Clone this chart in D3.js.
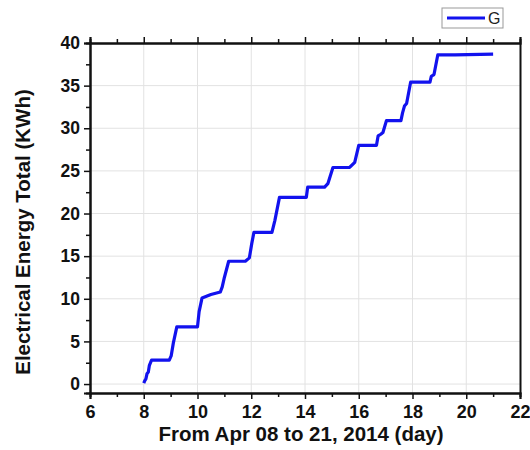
<!DOCTYPE html>
<html>
<head>
<meta charset="utf-8">
<script src="https://cdn.jsdelivr.net/npm/d3@7"></script>
<style>
  body { margin: 0; background: #fff; }
  text { font-family: Arial, "Liberation Sans", sans-serif; }
</style>
</head>
<body>
<div id="chart"></div>
<script>
// day of April 2014 and cumulative energy (KWh)
var days = [8.0, 8.04, 8.08, 8.12, 8.17, 8.21, 8.29, 8.95, 9.02, 9.1, 9.23, 10.0, 10.06, 10.17, 10.5, 10.85, 10.92, 11.0, 11.16, 11.78, 11.93, 12.02, 12.1, 12.77, 12.88, 13.05, 14.05, 14.1, 14.73, 14.85, 15.04, 15.66, 15.85, 16.0, 16.66, 16.72, 16.82, 16.9, 17.03, 17.57, 17.63, 17.7, 17.78, 17.93, 18.65, 18.7, 18.8, 18.94, 19.58, 21.0]
var energy = [0.1, 0.4, 0.6, 1.2, 1.4, 2.2, 2.8, 2.8, 3.3, 4.8, 6.7, 6.7, 8.5, 10.1, 10.5, 10.8, 11.4, 12.5, 14.4, 14.4, 14.8, 16.5, 17.8, 17.8, 19.2, 21.9, 21.9, 23.1, 23.1, 23.5, 25.4, 25.4, 26.0, 28.0, 28.0, 29.1, 29.3, 29.5, 30.9, 30.9, 31.8, 32.6, 32.9, 35.4, 35.4, 36.1, 36.3, 38.6, 38.6, 38.7]
var xTicks = [6, 8, 10, 12, 14, 16, 18, 20, 22]
var yTicks = [0, 5, 10, 15, 20, 25, 30, 35, 40]
var seriesName = "G"

var width = 530, height = 450
var margin = {top: 43, right: 10, bottom: 57, left: 90}

var svg = d3.select('#chart').append('svg')
  .attr('width', width)
  .attr('height', height)

var x = d3.scaleLinear().domain([6, 22]).range([margin.left, width - margin.right])
var y = d3.scaleLinear().domain([-1.05, 40]).range([height - margin.bottom, margin.top])

var points = days.map(function(d, i){ return [d, energy[i]] })

// grid
svg.append('g').selectAll('line')
  .data(xTicks.filter(d => d > 6 && d < 22))
  .enter().append('line')
  .attr('x1', d => x(d)).attr('x2', d => x(d))
  .attr('y1', y(40)).attr('y2', y(-1.05))
  .attr('stroke', '#e2e2e2').attr('stroke-width', 1)

svg.append('g').selectAll('line')
  .data(yTicks.filter(d => d < 40))
  .enter().append('line')
  .attr('x1', x(6)).attr('x2', x(22))
  .attr('y1', d => y(d)).attr('y2', d => y(d))
  .attr('stroke', '#e2e2e2').attr('stroke-width', 1)

// axes
var xMinor = d3.range(7, 22, 2)
var yMinor = d3.range(2.5, 40, 5)

var axisBottomG = svg.append('g')
  .attr('transform', 'translate(0,' + (height - margin.bottom) + ')')
  .call(d3.axisBottom(x).tickValues(xTicks).tickSize(6).tickPadding(6).tickFormat(d3.format('d')))
axisBottomG.append('g').call(d3.axisBottom(x).tickValues(xMinor).tickSize(4).tickFormat(''))

var axisTopG = svg.append('g')
  .attr('transform', 'translate(0,' + margin.top + ')')
  .call(d3.axisTop(x).tickValues(xTicks).tickSize(6).tickFormat(''))
axisTopG.append('g').call(d3.axisTop(x).tickValues(xMinor).tickSize(4).tickFormat(''))

var axisLeftG = svg.append('g')
  .attr('transform', 'translate(' + margin.left + ',0)')
  .call(d3.axisLeft(y).tickValues(yTicks).tickSize(6).tickPadding(4))
axisLeftG.append('g').call(d3.axisLeft(y).tickValues(yMinor).tickSize(4).tickFormat(''))

svg.append('g')
  .attr('transform', 'translate(' + (width - margin.right) + ',0)')
  .call(d3.axisRight(y).tickValues([]).tickSizeOuter(0))

svg.selectAll('.domain').attr('stroke', '#111').attr('stroke-width', 2)
svg.selectAll('.tick line').attr('stroke', '#111').attr('stroke-width', 1.5)
svg.selectAll('.tick text')
  .attr('font-size', 17.5).attr('font-weight', 'bold').attr('fill', '#111')
  .style('font-family', 'Arial, "Liberation Sans", sans-serif')
axisBottomG.selectAll('.tick text').attr('font-size', 18)

// series
svg.append('path')
  .datum(points)
  .attr('fill', 'none')
  .attr('stroke', '#1212ee')
  .attr('stroke-width', 3.2)
  .attr('stroke-linejoin', 'round')
  .attr('d', d3.line().x(d => x(d[0])).y(d => y(d[1])))

// titles
svg.append('text')
  .attr('x', 301)
  .attr('y', 441)
  .attr('text-anchor', 'middle')
  .attr('font-size', 20.5).attr('font-weight', 'bold').attr('fill', '#111')
  .text('From Apr 08 to 21, 2014 (day)')

svg.append('text')
  .attr('transform', 'translate(30,' + 232 + ') rotate(-90)')
  .attr('text-anchor', 'middle')
  .attr('font-size', 20.5).attr('font-weight', 'bold').attr('fill', '#111')
  .text('Electrical Energy Total (KWh)')

// legend
var legend = svg.append('g').attr('transform', 'translate(442,8)')
legend.append('rect')
  .attr('width', 61).attr('height', 20)
  .attr('fill', '#fff').attr('stroke', '#999').attr('stroke-width', 1)
legend.append('line')
  .attr('x1', 5).attr('x2', 43).attr('y1', 10).attr('y2', 10)
  .attr('stroke', '#1212ee').attr('stroke-width', 3)
legend.append('text')
  .attr('x', 46).attr('y', 16)
  .attr('font-size', 16).attr('fill', '#222')
  .text(seriesName)
</script>
</body>
</html>
